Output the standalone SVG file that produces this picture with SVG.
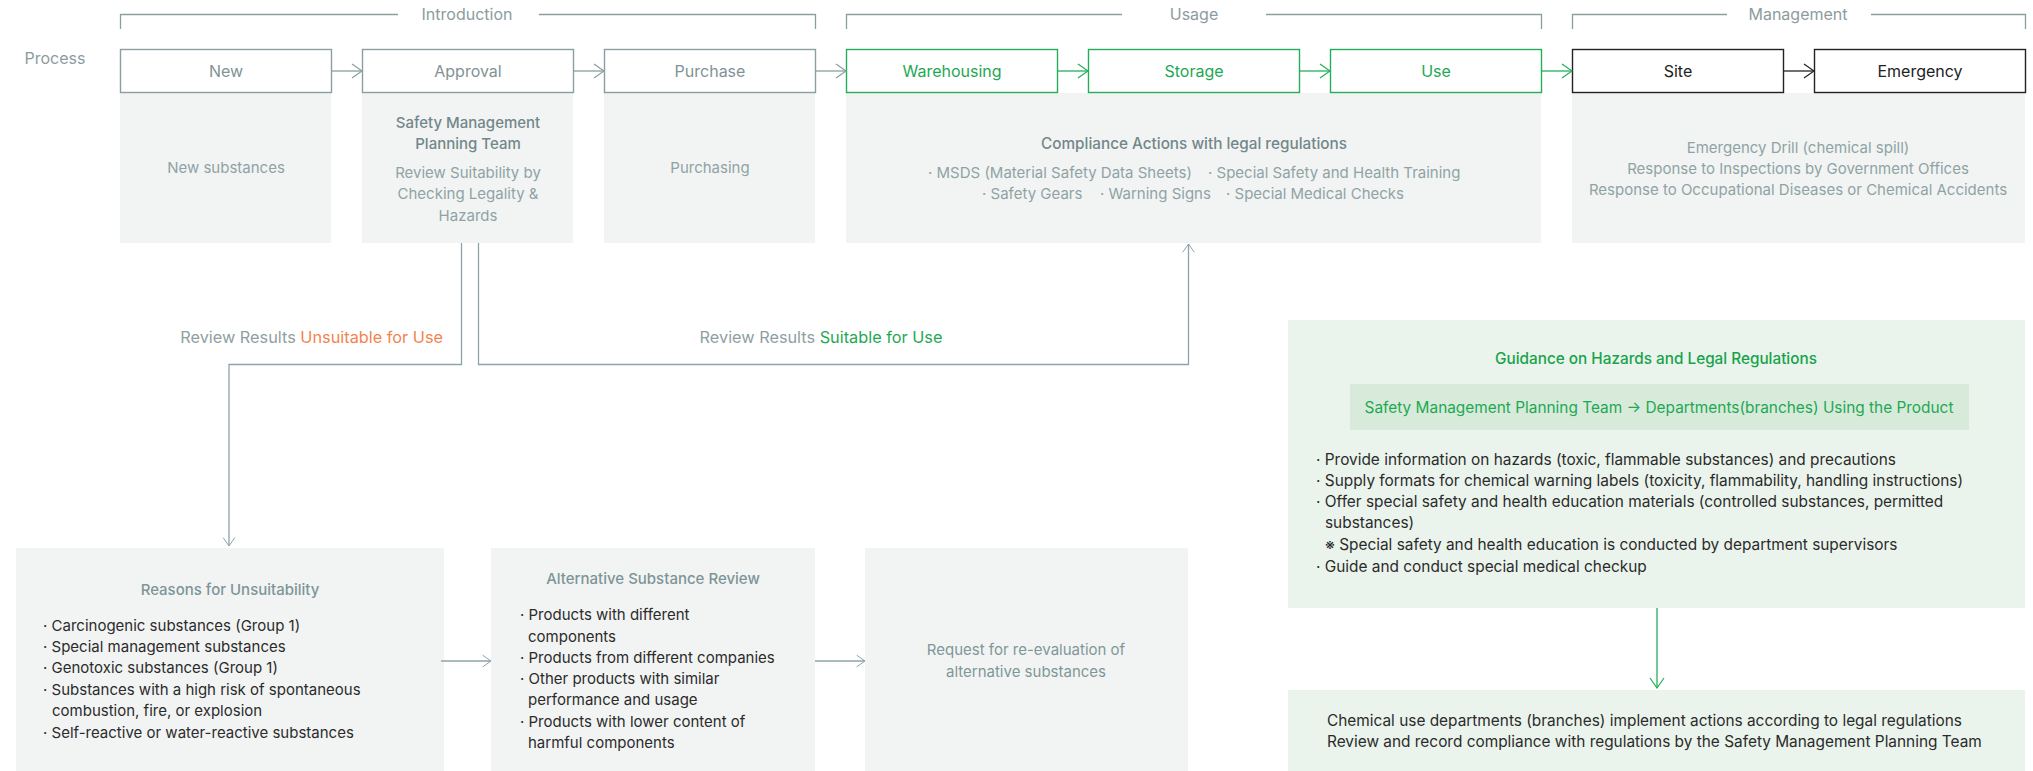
<svg xmlns="http://www.w3.org/2000/svg" width="2033" height="771" viewBox="0 0 2033 771">
<style>
text{font-family:Inter,"Noto Sans","Liberation Sans",sans-serif}
.lbl{font-size:16px;text-anchor:middle}
.gray{fill:#7f9395}
.grn{fill:#1ea853}
.blk{fill:#222}
.body{font-size:15px;fill:#8fa3a5;text-anchor:middle}
.bodyT{font-size:15px;fill:#72878a;text-anchor:middle;font-weight:500}
.list{font-size:15px;fill:#2b2b2b}
.glist{font-size:15.4px;fill:#2b2b2b}
.sect{font-size:16px;fill:#8c9c9e;text-anchor:middle}
.bx{fill:#fff;stroke-width:1.4}
.bgray{stroke:#8a9ea0}
.bgrn{stroke:#26ad5a}
.bblk{stroke:#222}
.panel{fill:#f2f4f3}
.gpanel{fill:#eaf4ec}
.br{fill:none;stroke:#8a9ea0;stroke-width:1.3}
.con{fill:none;stroke-width:1.3}
</style>
<defs>
<marker id="aG" viewBox="0 0 12 16" refX="11" refY="8" markerWidth="12" markerHeight="16" markerUnits="userSpaceOnUse" orient="auto"><path d="M1,1 L11,8 L1,15" fill="none" stroke="#8a9ea0" stroke-width="1.2"/></marker>
<marker id="aN" viewBox="0 0 12 16" refX="11" refY="8" markerWidth="12" markerHeight="16" markerUnits="userSpaceOnUse" orient="auto"><path d="M1,1 L11,8 L1,15" fill="none" stroke="#26ad5a" stroke-width="1.2"/></marker>
<marker id="aB" viewBox="0 0 12 16" refX="11" refY="8" markerWidth="12" markerHeight="16" markerUnits="userSpaceOnUse" orient="auto"><path d="M1,1 L11,8 L1,15" fill="none" stroke="#222" stroke-width="1.2"/></marker>
<marker id="aT" viewBox="0 0 12 16" refX="11" refY="8" markerWidth="10" markerHeight="14" markerUnits="userSpaceOnUse" orient="auto"><path d="M1,1 L11,8 L1,15" fill="none" stroke="#8fa3a8" stroke-width="1.2"/></marker>
</defs>
<rect width="2033" height="771" fill="#fff"/>

<g id="headers">
<text x="55" y="64" class="sect">Process</text>
<path class="br" d="M120.5,29 V14.5 H398 M539,14.5 H815.5 V29"/>
<text x="467" y="19.5" class="sect">Introduction</text>
<path class="br" d="M846.5,29 V14.5 H1122 M1266,14.5 H1541.5 V29"/>
<text x="1194" y="19.5" class="sect">Usage</text>
<path class="br" d="M1572.5,29 V14.5 H1727 M1871,14.5 H2025.5 V29"/>
<text x="1798" y="19.5" class="sect">Management</text>
</g>

<g id="panels">
<rect class="panel" x="120" y="93" width="211" height="150"/>
<rect class="panel" x="362" y="93" width="211" height="150"/>
<rect class="panel" x="604" y="93" width="211" height="150"/>
<rect class="panel" x="846" y="93" width="695" height="150"/>
<rect class="panel" x="1572" y="93" width="453" height="150"/>
</g>

<g id="n-new"><rect class="bx bgray" x="120.5" y="49.5" width="211" height="43"/><text x="226" y="76.5" class="lbl gray">New</text>
<text x="226" y="173" class="body">New substances</text></g>
<g id="n-approval"><rect class="bx bgray" x="362.5" y="49.5" width="211" height="43"/><text x="468" y="76.5" class="lbl gray">Approval</text>
<text x="468" y="128" class="bodyT">Safety Management</text>
<text x="468" y="149" class="bodyT">Planning Team</text>
<text x="468" y="178" class="body">Review Suitability by</text>
<text x="468" y="199" class="body">Checking Legality &amp;</text>
<text x="468" y="221" class="body">Hazards</text></g>
<g id="n-purchase"><rect class="bx bgray" x="604.5" y="49.5" width="211" height="43"/><text x="710" y="76.5" class="lbl gray">Purchase</text>
<text x="710" y="173" class="body">Purchasing</text></g>
<g id="n-warehousing"><rect class="bx bgrn" x="846.5" y="49.5" width="211" height="43"/><text x="952" y="76.5" class="lbl grn">Warehousing</text></g>
<g id="n-storage"><rect class="bx bgrn" x="1088.5" y="49.5" width="211" height="43"/><text x="1194" y="76.5" class="lbl grn">Storage</text></g>
<g id="n-use"><rect class="bx bgrn" x="1330.5" y="49.5" width="211" height="43"/><text x="1436" y="76.5" class="lbl grn">Use</text></g>
<g id="n-compliance">
<text x="1194" y="149" class="bodyT" style="font-size:15.3px">Compliance Actions with legal regulations</text>
<text x="928" y="178" class="body" style="text-anchor:start">· MSDS (Material Safety Data Sheets)</text>
<text x="1208" y="178" class="body" style="text-anchor:start">· Special Safety and Health Training</text>
<text x="982" y="199" class="body" style="text-anchor:start">· Safety Gears</text>
<text x="1100" y="199" class="body" style="text-anchor:start">· Warning Signs</text>
<text x="1226" y="199" class="body" style="text-anchor:start">· Special Medical Checks</text>
</g>
<g id="n-site"><rect class="bx bblk" x="1572.5" y="49.5" width="211" height="43"/><text x="1678" y="76.5" class="lbl blk">Site</text></g>
<g id="n-emergency"><rect class="bx bblk" x="1814.5" y="49.5" width="211" height="43"/><text x="1920" y="76.5" class="lbl blk">Emergency</text>
<text x="1798" y="153" class="body">Emergency Drill (chemical spill)</text>
<text x="1798" y="174" class="body">Response to Inspections by Government Offices</text>
<text x="1798" y="195" class="body">Response to Occupational Diseases or Chemical Accidents</text></g>

<g id="n-reasons">
<rect class="panel" x="16" y="548" width="428" height="223"/>
<text x="230" y="595" class="bodyT" style="fill:#7d9598">Reasons for Unsuitability</text>
<text class="list" x="43" y="631">· Carcinogenic substances (Group 1)</text>
<text class="list" x="43" y="652">· Special management substances</text>
<text class="list" x="43" y="673">· Genotoxic substances (Group 1)</text>
<text class="list" x="43" y="695">· Substances with a high risk of spontaneous</text>
<text class="list" x="52" y="716">combustion, fire, or explosion</text>
<text class="list" x="43" y="738">· Self-reactive or water-reactive substances</text>
</g>
<g id="n-alternative">
<rect class="panel" x="491" y="548" width="324" height="223"/>
<text x="653" y="584" class="bodyT" style="fill:#7d9598">Alternative Substance Review</text>
<text class="list" x="520" y="620">· Products with different</text>
<text class="list" x="528" y="642">components</text>
<text class="list" x="520" y="663">· Products from different companies</text>
<text class="list" x="520" y="684">· Other products with similar</text>
<text class="list" x="528" y="705">performance and usage</text>
<text class="list" x="520" y="727">· Products with lower content of</text>
<text class="list" x="528" y="748">harmful components</text>
</g>
<g id="n-request">
<rect class="panel" x="865" y="548" width="323" height="223"/>
<text x="1026" y="655" class="body" style="fill:#7f9799">Request for re-evaluation of</text>
<text x="1026" y="677" class="body" style="fill:#7f9799">alternative substances</text>
</g>
<g id="n-guidance">
<rect class="gpanel" x="1288" y="320" width="737" height="288"/>
<text x="1656" y="364" style="font-size:15.3px;fill:#17a34a;text-anchor:middle;font-weight:500">Guidance on Hazards and Legal Regulations</text>
<rect x="1350" y="384" width="619" height="46" fill="#d8ebdb"/>
<text x="1659" y="413" style="font-size:15.4px;fill:#1ea853;text-anchor:middle">Safety Management Planning Team → Departments(branches) Using the Product</text>
<text class="glist" x="1316" y="465">· Provide information on hazards (toxic, flammable substances) and precautions</text>
<text class="glist" x="1316" y="486">· Supply formats for chemical warning labels (toxicity, flammability, handling instructions)</text>
<text class="glist" x="1316" y="507">· Offer special safety and health education materials (controlled substances, permitted</text>
<text class="glist" x="1325" y="528">substances)</text>
<text class="glist" x="1325" y="550">※ Special safety and health education is conducted by department supervisors</text>
<text class="glist" x="1316" y="572">· Guide and conduct special medical checkup</text>
</g>
<g id="n-implement">
<rect class="gpanel" x="1288" y="690" width="737" height="81"/>
<text class="glist" x="1327" y="726">Chemical use departments (branches) implement actions according to legal regulations</text>
<text class="glist" x="1327" y="747">Review and record compliance with regulations by the Safety Management Planning Team</text>
</g>

<g id="connectors">
<path class="con" stroke="#8a9ea0" d="M331,71 H362" marker-end="url(#aG)"/>
<path class="con" stroke="#8a9ea0" d="M573,71 H604" marker-end="url(#aG)"/>
<path class="con" stroke="#8a9ea0" d="M815,71 H846" marker-end="url(#aG)"/>
<path class="con" stroke="#26ad5a" d="M1057,71 H1088" marker-end="url(#aN)"/>
<path class="con" stroke="#26ad5a" d="M1299,71 H1330" marker-end="url(#aN)"/>
<path class="con" stroke="#26ad5a" d="M1541,71 H1572" marker-end="url(#aN)"/>
<path class="con" stroke="#222" d="M1783,71 H1814" marker-end="url(#aB)"/>
<path class="con" stroke="#8fa3a8" d="M461.5,243 V364.5 H229 V546" marker-end="url(#aT)"/>
<path class="con" stroke="#8fa3a8" d="M478.5,243 V364.5 H1188.5 V244" marker-end="url(#aT)"/>
<path class="con" stroke="#8fa3a8" d="M441,661 H491" marker-end="url(#aT)"/>
<path class="con" stroke="#8fa3a8" d="M815,661 H865" marker-end="url(#aT)"/>
<path class="con" stroke="#26ad5a" d="M1657,608 V688" marker-end="url(#aN)"/>
<text x="443" y="343" style="font-size:16.3px;fill:#8fa0a2;text-anchor:end">Review Results <tspan fill="#f2844f">Unsuitable for Use</tspan></text>
<text x="821" y="343" style="font-size:16.3px;fill:#8fa0a2;text-anchor:middle">Review Results <tspan fill="#1ea853">Suitable for Use</tspan></text>
</g>
</svg>
